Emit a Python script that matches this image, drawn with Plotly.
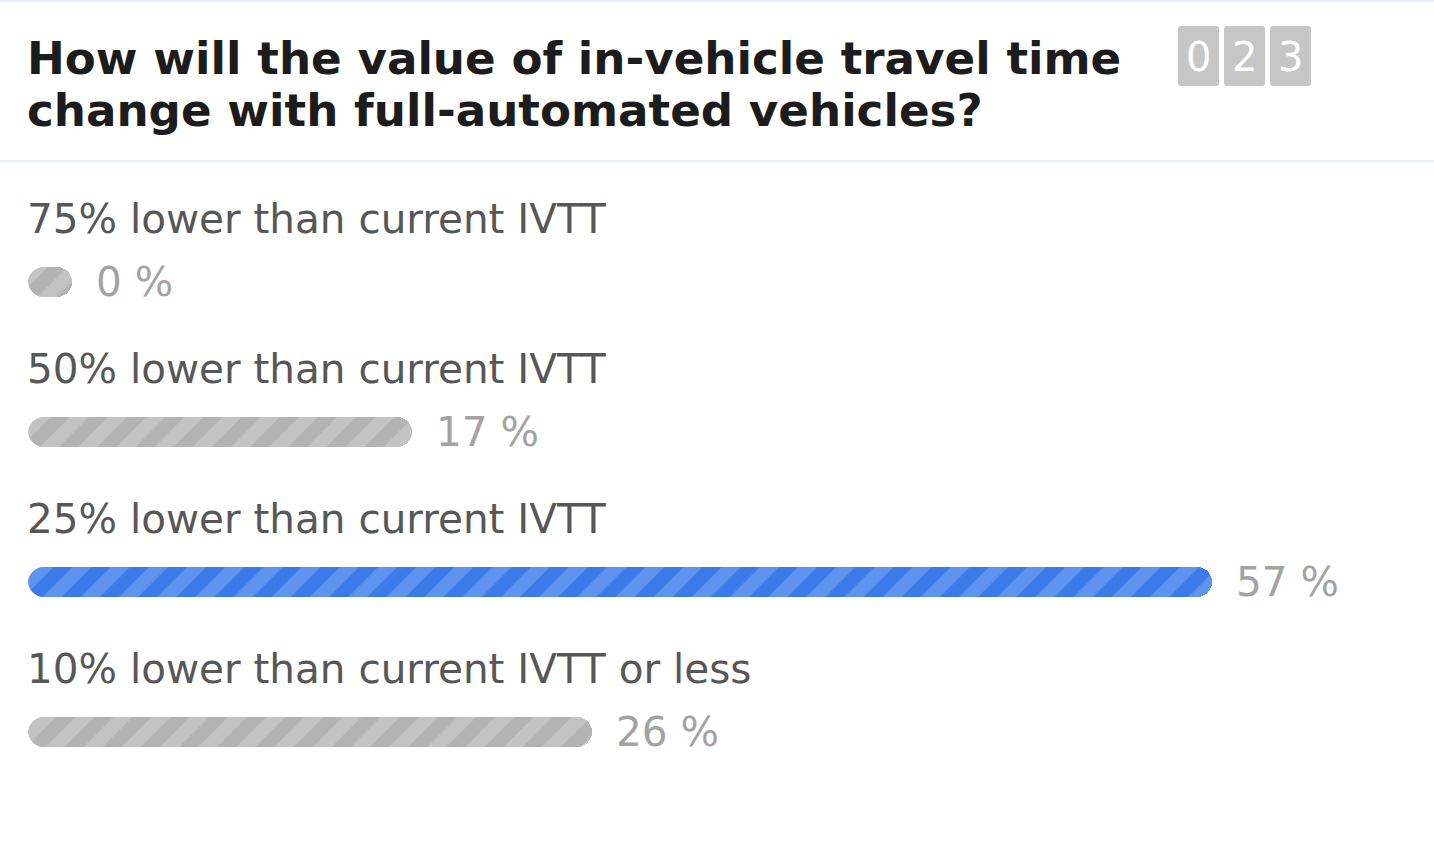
import plotly.graph_objects as go

# ---- data ----
title_lines = ["How will the value of in-vehicle travel time",
               "change with full-automated vehicles?"]
options = ["75% lower than current IVTT",
           "50% lower than current IVTT",
           "25% lower than current IVTT",
           "10% lower than current IVTT or less"]
percents = [0, 17, 57, 26]
winner = [False, False, True, False]
total_votes = 23

# ---- style ----
W, H = 1434, 864
FONT = "DejaVu Sans"
CAP = 1.1            # rounded end-cap length in axis units
PX_PER_UNIT = 20.0
LEFT_PX = 28
ROW_PX = 150
FIRST_ROW_PX = 282
BAR_PX = 30

BLUE, BLUE_STRIPE = "#3b7be9", "#5e93ee"
GREY, GREY_STRIPE = "#b3b3b3", "#c3c3c3"

x0 = -CAP - LEFT_PX / PX_PER_UNIT
x1 = x0 + W / PX_PER_UNIT
y_top = -FIRST_ROW_PX / ROW_PX
y_bot = (H - FIRST_ROW_PX) / ROW_PX
bar_w = BAR_PX / ROW_PX

fig = go.Figure()
for i, (p, w) in enumerate(zip(percents, winner)):
    base_c = BLUE if w else GREY
    stripe_c = BLUE_STRIPE if w else GREY_STRIPE
    fig.add_trace(go.Bar(
        y=[i], x=[p + 2 * CAP], base=[-CAP], orientation="h", width=bar_w,
        marker=dict(color=base_c, line=dict(width=0), cornerradius=BAR_PX // 2,
                    pattern=dict(shape="/", size=27, solidity=0.5,
                                 fgcolor=stripe_c, bgcolor=base_c,
                                 fgopacity=1, fillmode="replace")),
        hoverinfo="skip", showlegend=False))

shapes = []
# white masks that round the left ends of the bars
rx = (BAR_PX / 2) / PX_PER_UNIT
ry = bar_w / 2
k = 0.5523
xl = -CAP
for i in range(len(percents)):
    for s in (-1, 1):
        ye = i + s * ry          # bar edge
        path = (f"M {xl - 0.05},{ye + s * 0.01} L {xl + rx},{ye + s * 0.01} "
                f"L {xl + rx},{ye} "
                f"C {xl + rx - k * rx},{ye} {xl},{i + s * (ry - k * ry)} {xl},{i} "
                f"L {xl - 0.05},{i} Z")
        shapes.append(dict(type="path", xref="x", yref="y", path=path,
                           fillcolor="white", line=dict(width=0), layer="above"))

annotations = []
# title
for i, line in enumerate(title_lines):
    annotations.append(dict(
        text=f"<b>{line}</b>", xref="paper", yref="paper",
        x=LEFT_PX / W, y=1 - (59 + 52 * i) / H, xanchor="left", yanchor="middle",
        xshift=-3, showarrow=False,
        font=dict(family=FONT, size=45.2, color="#1c1c1c")))
# option labels and percentages
for i, (opt, p) in enumerate(zip(options, percents)):
    annotations.append(dict(
        text=opt, xref="paper", yref="y", x=LEFT_PX / W, y=i - 0.42,
        xanchor="left", yanchor="middle", xshift=-3, showarrow=False,
        font=dict(family=FONT, size=40.5, color="#575757")))
    annotations.append(dict(
        text=f"{p} %", xref="x", yref="y", x=p + CAP, y=i,
        xanchor="left", yanchor="middle", xshift=22, showarrow=False,
        font=dict(family=FONT, size=40.5, color="#a3a3a3")))

# vote counter boxes
digits = f"{total_votes:03d}"
box_lefts = [1178, 1224, 1270]
bw, bt, bb = 41, 26, 86
r = 3
for d, bl in zip(digits, box_lefts):
    pxl, pxr = bl / W, (bl + bw) / W
    yt, yb = 1 - bt / H, 1 - bb / H
    qx, qy = r / W, r / H
    path = (f"M {pxl+qx},{yb} L {pxr-qx},{yb} Q {pxr},{yb} {pxr},{yb+qy} "
            f"L {pxr},{yt-qy} Q {pxr},{yt} {pxr-qx},{yt} L {pxl+qx},{yt} "
            f"Q {pxl},{yt} {pxl},{yt-qy} L {pxl},{yb+qy} Q {pxl},{yb} {pxl+qx},{yb} Z")
    shapes.append(dict(type="path", xref="paper", yref="paper", path=path,
                       fillcolor="#c6c6c6", line=dict(width=0), layer="below"))
    annotations.append(dict(
        text=d, xref="paper", yref="paper", x=(bl + bw / 2) / W, y=1 - 57 / H,
        xanchor="center", yanchor="middle", showarrow=False,
        font=dict(family=FONT, size=40, color="#ffffff")))

# divider lines
shapes.append(dict(type="line", xref="paper", yref="paper", x0=0, x1=1,
                   y0=1 - 161 / H, y1=1 - 161 / H,
                   line=dict(color="#e8eef7", width=2)))
shapes.append(dict(type="line", xref="paper", yref="paper", x0=0, x1=1,
                   y0=1 - 1 / H, y1=1 - 1 / H,
                   line=dict(color="#e8eef7", width=2)))

fig.update_layout(
    width=W, height=H, margin=dict(l=0, r=0, t=0, b=0),
    paper_bgcolor="white", plot_bgcolor="white",
    barmode="overlay", bargap=0,
    xaxis=dict(range=[x0, x1], visible=False, fixedrange=True),
    yaxis=dict(range=[y_bot, y_top], visible=False, fixedrange=True),
    annotations=annotations, shapes=shapes,
    hovermode=False, showlegend=False,
)

fig.write_html("out.html", config=dict(displayModeBar=False),
               post_script="document.body.style.margin='0';"
                           "document.body.style.padding='0';"
                           "document.body.style.overflow='hidden';")
